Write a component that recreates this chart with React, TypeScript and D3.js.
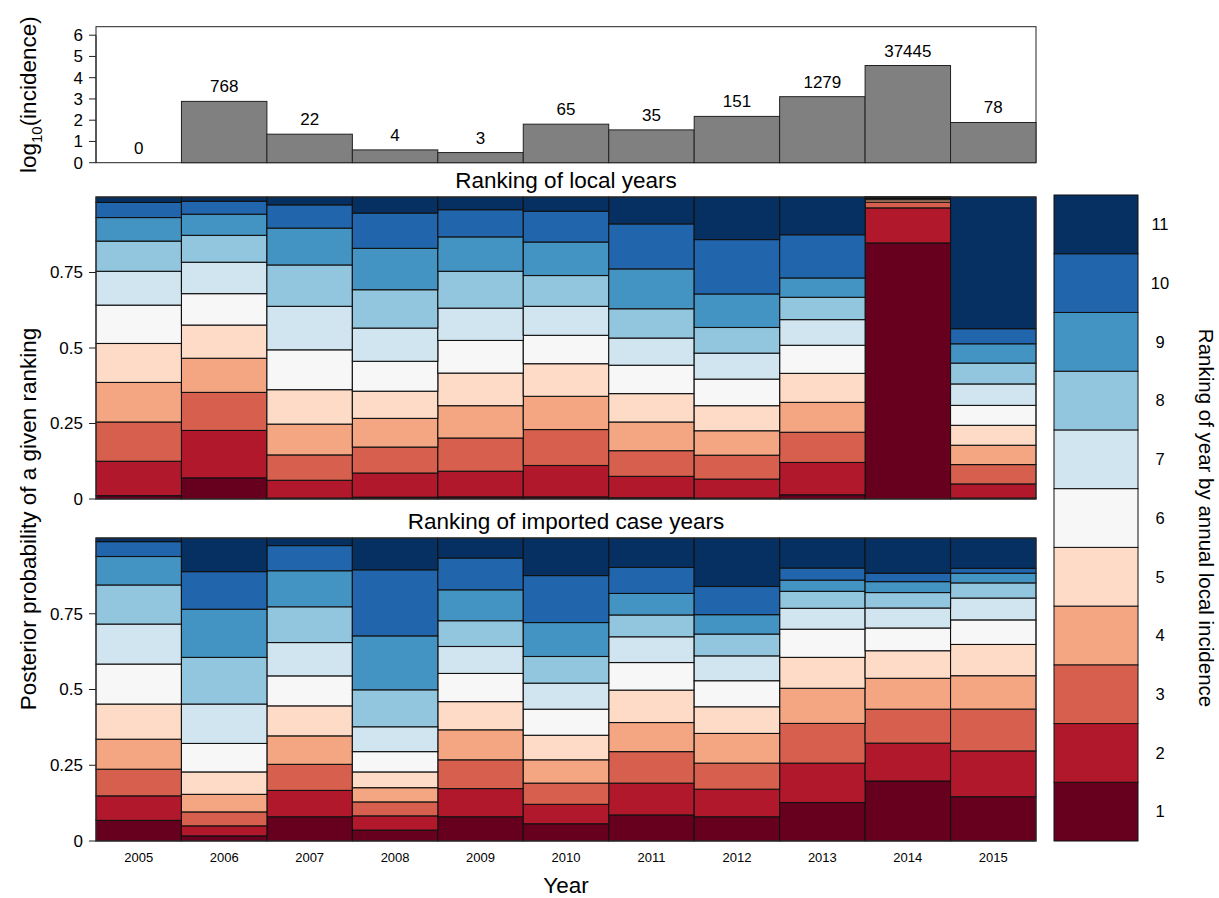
import React from "react";
import * as d3 from "d3";

// ---------- data ----------
const years = ["2005", "2006", "2007", "2008", "2009", "2010", "2011", "2012", "2013", "2014", "2015"];
const localIncidence = [0, 768, 22, 4, 3, 65, 35, 151, 1279, 37445, 78];
const incidenceTicks = [0, 1, 2, 3, 4, 5, 6];
const probTicks = [0, 0.25, 0.5, 0.75];
const probTickLabels = ["0", "0.25", "0.5", "0.75"];
const rankLabels = ["1", "2", "3", "4", "5", "6", "7", "8", "9", "10", "11"];

// posterior probability of ranks 1..11, one row per year (local years)
const localRankProbs = [
  [0.011, 0.114, 0.130, 0.131, 0.129, 0.127, 0.112, 0.100, 0.078, 0.050, 0.018],
  [0.070, 0.157, 0.126, 0.113, 0.110, 0.104, 0.104, 0.089, 0.070, 0.043, 0.014],
  [0.003, 0.059, 0.084, 0.102, 0.114, 0.132, 0.144, 0.137, 0.122, 0.077, 0.026],
  [0.006, 0.080, 0.086, 0.095, 0.090, 0.099, 0.110, 0.127, 0.137, 0.117, 0.053],
  [0.007, 0.085, 0.110, 0.107, 0.108, 0.108, 0.107, 0.122, 0.114, 0.090, 0.042],
  [0.007, 0.104, 0.119, 0.110, 0.108, 0.094, 0.096, 0.102, 0.111, 0.102, 0.047],
  [0.004, 0.071, 0.085, 0.095, 0.094, 0.094, 0.090, 0.097, 0.132, 0.149, 0.089],
  [0.003, 0.063, 0.079, 0.081, 0.083, 0.088, 0.086, 0.085, 0.111, 0.180, 0.141],
  [0.014, 0.107, 0.100, 0.099, 0.096, 0.093, 0.085, 0.074, 0.064, 0.143, 0.125],
  [0.848, 0.116, 0.019, 0.008, 0.004, 0.002, 0.001, 0.001, 0.0005, 0.0003, 0.0002],
  [0.003, 0.047, 0.064, 0.064, 0.066, 0.066, 0.071, 0.069, 0.064, 0.050, 0.436],
];

// posterior probability of ranks 1..11, one row per year (imported case years)
const importedRankProbs = [
  [0.068, 0.081, 0.088, 0.099, 0.116, 0.132, 0.132, 0.129, 0.094, 0.049, 0.012],
  [0.017, 0.033, 0.046, 0.058, 0.074, 0.094, 0.130, 0.154, 0.159, 0.124, 0.111],
  [0.080, 0.087, 0.086, 0.094, 0.099, 0.099, 0.110, 0.118, 0.119, 0.083, 0.025],
  [0.036, 0.047, 0.046, 0.047, 0.052, 0.067, 0.082, 0.122, 0.178, 0.218, 0.105],
  [0.080, 0.093, 0.095, 0.099, 0.093, 0.093, 0.089, 0.085, 0.102, 0.105, 0.066],
  [0.057, 0.064, 0.070, 0.077, 0.081, 0.086, 0.086, 0.088, 0.112, 0.155, 0.124],
  [0.086, 0.105, 0.104, 0.096, 0.107, 0.091, 0.085, 0.072, 0.071, 0.086, 0.097],
  [0.080, 0.091, 0.086, 0.098, 0.088, 0.086, 0.082, 0.072, 0.064, 0.093, 0.160],
  [0.127, 0.130, 0.131, 0.116, 0.102, 0.093, 0.069, 0.056, 0.037, 0.040, 0.099],
  [0.198, 0.125, 0.112, 0.102, 0.091, 0.075, 0.066, 0.051, 0.036, 0.028, 0.116],
  [0.146, 0.151, 0.138, 0.110, 0.103, 0.081, 0.072, 0.050, 0.032, 0.016, 0.100],
];

// ---------- layout ----------
const W = 1219;
const H = 898;
const FONT = "'Liberation Sans', Arial, Helvetica, sans-serif";
const plotLeft = 96;
const plotRight = 1036;
const topPanel = { top: 26.7, bottom: 162.7 };
const localPanel = { top: 197, bottom: 499 };
const importPanel = { top: 538, bottom: 841 };
const legendBox = { left: 1054, right: 1138, top: 195, bottom: 841 };

const colors = d3.schemeRdBu[11]; // rank 1 (dark red) ... rank 11 (dark blue)

const x = d3.scaleBand<string>().domain(years).range([plotLeft, plotRight]).padding(0);
const yTop = d3.scaleLinear().domain([0, 6.4]).range([topPanel.bottom, topPanel.top]);

function stackRows(rows: number[][]) {
  const keys = rankLabels;
  const data = rows.map((r, i) => {
    const o: any = { year: years[i] };
    keys.forEach((k, j) => (o[k] = r[j]));
    return o;
  });
  return d3.stack<any>().keys(keys).offset(d3.stackOffsetExpand)(data);
}

function ProbPanel({ rows, panel, title }: { rows: number[][]; panel: { top: number; bottom: number }; title: string }) {
  const y = d3.scaleLinear().domain([0, 1]).range([panel.bottom, panel.top]);
  const series = stackRows(rows);
  return (
    <g>
      <text x={(plotLeft + plotRight) / 2} y={panel.top - 9} textAnchor="middle" fontSize={22.5} fontFamily={FONT}>
        {title}
      </text>
      {series.map((s, si) => (
        <g key={si} fill={colors[si]}>
          {s.map((d: any, di: number) => (
            <rect
              key={di}
              x={x(d.data.year)}
              width={x.bandwidth()}
              y={y(d[1])}
              height={Math.max(0, y(d[0]) - y(d[1]))}
              stroke="#111"
              strokeWidth={1.1}
            />
          ))}
        </g>
      ))}
      <rect x={plotLeft} y={panel.top} width={plotRight - plotLeft} height={panel.bottom - panel.top} fill="none" stroke="#333" strokeWidth={1} />
      {probTicks.map((t, i) => (
        <g key={i}>
          <line x1={plotLeft - 7} x2={plotLeft} y1={y(t)} y2={y(t)} stroke="#222" strokeWidth={1} />
          <text x={plotLeft - 13} y={y(t)} dy="0.35em" textAnchor="end" fontSize={17} fontFamily={FONT}>
            {probTickLabels[i]}
          </text>
        </g>
      ))}
    </g>
  );
}

export default function App() {
  const legendY = d3
    .scaleBand<string>()
    .domain(rankLabels.slice().reverse())
    .range([legendBox.top, legendBox.bottom])
    .padding(0);

  return (
    <svg width={W} height={H} style={{ position: "absolute", left: 0, top: 0, background: "#fff" }} fontFamily={FONT}>
      {/* ---- top incidence panel ---- */}
      <rect x={plotLeft} y={topPanel.top} width={plotRight - plotLeft} height={topPanel.bottom - topPanel.top} fill="#fff" stroke="#222" strokeWidth={1} />
      {localIncidence.map((c, i) => {
        const v = c > 0 ? Math.log10(c) : 0;
        return (
          <g key={i}>
            {c > 0 && (
              <rect
                x={x(years[i])}
                width={x.bandwidth()}
                y={yTop(v)}
                height={yTop(0) - yTop(v)}
                fill="#808080"
                stroke="#222"
                strokeWidth={1}
              />
            )}
            <text x={(x(years[i]) as number) + x.bandwidth() / 2} y={yTop(v) - 9} textAnchor="middle" fontSize={17}>
              {c}
            </text>
          </g>
        );
      })}
      {incidenceTicks.map((t) => (
        <g key={t}>
          <line x1={plotLeft - 7} x2={plotLeft} y1={yTop(t)} y2={yTop(t)} stroke="#222" strokeWidth={1} />
          <text x={plotLeft - 13} y={yTop(t)} dy="0.35em" textAnchor="end" fontSize={17}>
            {t}
          </text>
        </g>
      ))}
      <line x1={plotLeft} x2={plotLeft} y1={yTop(0)} y2={yTop(6)} stroke="#222" />
      <text transform={`translate(28, ${(topPanel.top + topPanel.bottom) / 2}) rotate(-90)`} textAnchor="middle" dy="0.35em" fontSize={22.5}>
        log
        <tspan fontSize={15} dy={6}>10</tspan>
        <tspan dy={-6}>(incidence)</tspan>
      </text>

      {/* ---- probability panels ---- */}
      <ProbPanel rows={localRankProbs} panel={localPanel} title="Ranking of local years" />
      <ProbPanel rows={importedRankProbs} panel={importPanel} title="Ranking of imported case years" />

      {years.map((yr) => (
        <text key={yr} x={(x(yr) as number) + x.bandwidth() / 2} y={862} textAnchor="middle" fontSize={13}>
          {yr}
        </text>
      ))}
      <text x={(plotLeft + plotRight) / 2} y={893} textAnchor="middle" fontSize={22.5}>
        Year
      </text>
      <text
        transform={`translate(28, ${(localPanel.top + importPanel.bottom) / 2}) rotate(-90)`}
        textAnchor="middle"
        dy="0.35em"
        fontSize={22.5}
      >
        Posterior probability of a given ranking
      </text>

      {/* ---- legend ---- */}
      {rankLabels.map((r, i) => (
        <g key={r}>
          <rect
            x={legendBox.left}
            width={legendBox.right - legendBox.left}
            y={legendY(r)}
            height={legendY.bandwidth()}
            fill={colors[i]}
            stroke="#111"
            strokeWidth={1}
          />
          <text x={1160} y={(legendY(r) as number) + legendY.bandwidth() / 2} dy="0.35em" textAnchor="middle" fontSize={16.5}>
            {r}
          </text>
        </g>
      ))}
      <text
        transform={`translate(1206, ${(legendBox.top + legendBox.bottom) / 2}) rotate(90)`}
        textAnchor="middle"
        dy="0.35em"
        fontSize={20.5}
      >
        Ranking of year by annual local incidence
      </text>
    </svg>
  );
}
